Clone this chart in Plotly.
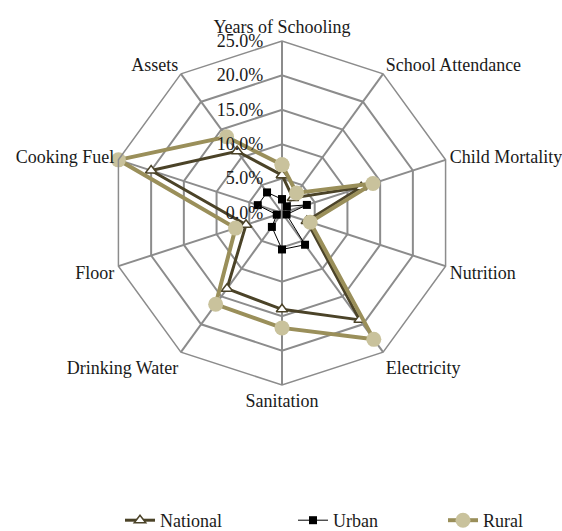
import plotly.graph_objects as go

categories = ["Years of Schooling", "School Attendance", "Child Mortality", "Nutrition",
              "Electricity", "Sanitation", "Drinking Water", "Floor", "Cooking Fuel", "Assets"]
national = [0.055, 0.027, 0.121, 0.038, 0.192, 0.140, 0.136, 0.055, 0.200, 0.111]
urban = [0.020, 0.012, 0.038, 0.007, 0.057, 0.053, 0.025, 0.008, 0.037, 0.037]
rural = [0.070, 0.036, 0.139, 0.043, 0.227, 0.167, 0.164, 0.071, 0.250, 0.137]
tick_vals = [0, 0.05, 0.10, 0.15, 0.20, 0.25]

def closed(v):
    return list(v) + [v[0]]

cats_c = closed(categories)

fig = go.Figure()
fig.add_trace(go.Scatterpolar(
    r=closed(national), theta=cats_c, name="National", mode="lines+markers",
    line=dict(color="#4B4328", width=3),
    marker=dict(symbol="triangle-up", size=10, color="white",
                line=dict(color="#4B4328", width=1.5)),
    legend="legend",
))
fig.add_trace(go.Scatterpolar(
    r=closed(urban), theta=cats_c, name="Urban", mode="lines+markers",
    line=dict(color="black", width=1),
    marker=dict(symbol="square", size=8, color="black"),
    legend="legend2",
))
fig.add_trace(go.Scatterpolar(
    r=closed(rural), theta=cats_c, name="Rural", mode="lines+markers",
    line=dict(color="#9A8F5A", width=4),
    marker=dict(symbol="circle", size=15, color="#C9C29C",
                line=dict(color="#C9C29C", width=0)),
    legend="legend3",
))

font_family = "Liberation Serif, DejaVu Serif, serif"
fs = 18

# figure is a little taller than the 531px window; the bottom strip is cut off
W, H = 562, 539
cx, cy, R = 282, 213, 172

def legend_at(x_px):
    return dict(orientation="h", x=x_px / W, xanchor="left",
                y=0, yanchor="bottom",
                font=dict(family=font_family, size=fs, color="#1a1a1a"),
                bgcolor="rgba(0,0,0,0)")

fig.update_layout(
    width=W, height=H,
    margin=dict(l=0, r=0, t=0, b=0),
    paper_bgcolor="white", plot_bgcolor="white",
    font=dict(family=font_family, size=fs, color="#1a1a1a"),
    polar=dict(
        domain=dict(x=[(cx - R) / W, (cx + R) / W],
                    y=[(H - cy - R) / H, (H - cy + R) / H]),
        bgcolor="white",
        gridshape="linear",
        angularaxis=dict(
            direction="clockwise", rotation=90,
            showline=True, linecolor="#8C8C8C", linewidth=1.5,
            gridcolor="#8C8C8C", gridwidth=1.5,
            ticks="", tickfont=dict(family=font_family, size=fs, color="#1a1a1a"),
        ),
        radialaxis=dict(
            range=[0, 0.25], tickvals=tick_vals, tickformat=".1%",
            angle=90, tickangle=90, side="counterclockwise",
            showline=False, gridcolor="#8C8C8C", gridwidth=1.5,
            ticks="outside", ticklen=12, tickcolor="rgba(0,0,0,0)",
            tickfont=dict(family=font_family, size=fs, color="#1a1a1a"),
        ),
    ),
    legend=legend_at(120),
    legend2=legend_at(293),
    legend3=legend_at(443),
    showlegend=True,
)

fig.write_html(
    "out.html",
    config={"displayModeBar": False},
    post_script="document.body.style.margin='0';document.body.style.overflow='hidden';",
)
